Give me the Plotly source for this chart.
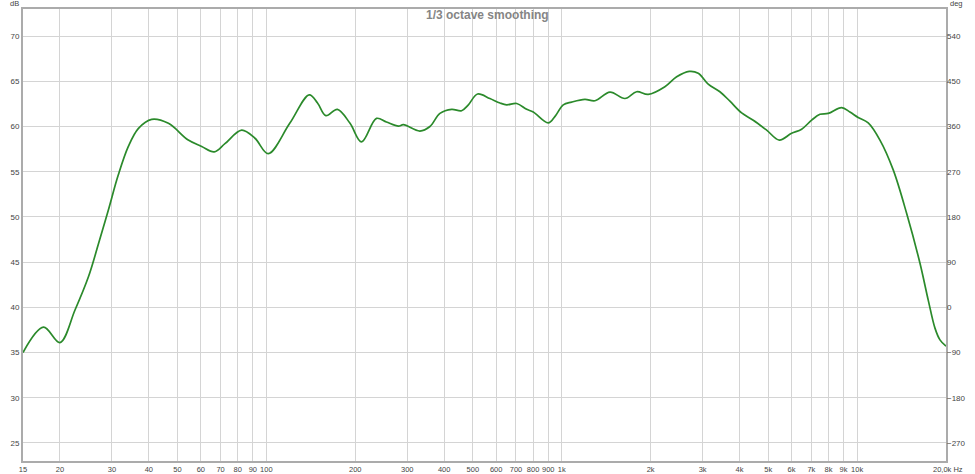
import plotly.graph_objects as go

# frequency response
freq_hz = [15, 17.6, 20, 22.5, 25, 27, 29.2, 31.5, 34.1, 36.9, 40.9, 46.6, 54.4, 60.4,
           66.6, 72.4, 82.5, 91.5, 101.5, 120, 139.7, 149, 159, 174, 192, 210, 236,
           255, 280, 291, 331, 358, 387, 424, 458, 483, 519, 571, 618, 651, 704, 761,
           801, 900, 948, 1012, 1080, 1198, 1296, 1457, 1637, 1793, 1963, 2235, 2450,
           2702, 2898, 3133, 3432, 3711, 4066, 4451, 4941, 5451, 6003, 6490, 7016,
           7487, 7985, 8862, 9455, 10086, 10906, 11950, 13254, 14712, 16320, 17413,
           18350, 19080, 20000]
spl_db = [35.0, 37.8, 36.1, 39.7, 43.4, 47.0, 50.8, 54.6, 57.8, 59.8, 60.8, 60.35, 58.5,
          57.8, 57.2, 58.1, 59.6, 58.7, 57.0, 60.35, 63.5, 62.6, 61.2, 61.9, 60.35, 58.3,
          60.9, 60.5, 60.05, 60.2, 59.5, 60.0, 61.45, 61.9, 61.75, 62.4, 63.6, 63.1,
          62.6, 62.4, 62.55, 61.9, 61.6, 60.4, 61.1, 62.4, 62.7, 63.0, 62.85, 63.8,
          63.1, 63.85, 63.55, 64.4, 65.5, 66.1, 65.9, 64.7, 63.85, 62.8, 61.5, 60.7,
          59.6, 58.5, 59.25, 59.7, 60.7, 61.35, 61.45, 62.1, 61.6, 61.0, 60.4, 58.5,
          55.2, 50.4, 44.9, 40.8, 37.7, 36.4, 35.7]

x_ticks = [15, 20, 30, 40, 50, 60, 70, 80, 90, 100, 200, 300, 400, 500, 600, 700, 800,
           900, 1000, 2000, 3000, 4000, 5000, 6000, 7000, 8000, 9000, 10000, 20000]
x_labels = ["15", "20", "30", "40", "50", "60", "70", "80", "90", "100", "200", "300",
            "400", "500", "600", "700", "800", "900", "1k", "2k", "3k", "4k", "5k", "6k",
            "7k", "8k", "9k", "10k", ""]
db_ticks = [25, 30, 35, 40, 45, 50, 55, 60, 65, 70]
deg_ticks = [-270, -180, -90, 0, 90, 180, 270, 360, 450, 540]

db_range = [23, 73]
# phase axis: 0 deg sits at 40 dB, 18 deg per dB
deg_range = [(v - 40) * 18 for v in db_range]

grid = "#d4d4d4"
frame = "#ababab"
tick_font = dict(family="Liberation Sans, Arial", size=8, color="#444444")

fig = go.Figure()

fig.add_trace(
    go.Scatter(
        x=freq_hz,
        y=spl_db,
        mode="lines",
        line=dict(color="#2b8a2b", width=1.7, shape="spline", smoothing=1.0),
        showlegend=False,
        hoverinfo="x+y",
    )
)
# empty trace so the phase axis gets drawn
fig.add_trace(go.Scatter(x=[], y=[], yaxis="y2", showlegend=False))

fig.update_layout(
    width=975,
    height=474,
    margin=dict(l=23, r=29, t=9, b=13, pad=0),
    plot_bgcolor="white",
    paper_bgcolor="white",
    xaxis=dict(
        type="log",
        range=[1.17609, 4.30103],
        tickvals=x_ticks,
        ticktext=x_labels,
        tickangle=0,
        automargin=False,
        showgrid=True,
        gridcolor=grid,
        gridwidth=1,
        zeroline=False,
        showline=True,
        linecolor=frame,
        linewidth=2,
        mirror=True,
        ticks="",
        tickfont=dict(family="Liberation Sans, Arial", size=7.5, color="#444444"),
    ),
    yaxis=dict(
        range=db_range,
        tickvals=db_ticks,
        automargin=False,
        showgrid=True,
        gridcolor=grid,
        gridwidth=1,
        zeroline=False,
        showline=True,
        linecolor=frame,
        linewidth=2,
        mirror=True,
        ticks="",
        tickfont=tick_font,
    ),
    yaxis2=dict(
        overlaying="y",
        side="right",
        range=deg_range,
        tickvals=deg_ticks,
        automargin=False,
        showgrid=False,
        zeroline=False,
        showline=False,
        ticks="",
        tickfont=tick_font,
    ),
    annotations=[
        dict(
            text="<b>1/3 octave smoothing</b>",
            xref="paper", yref="paper", x=0.503, y=0.987,
            xanchor="center", yanchor="middle", showarrow=False,
            font=dict(family="Liberation Sans, Arial", size=12, color="#858585"),
        ),
        dict(
            text="dB", xref="paper", yref="paper", x=0, y=1,
            xanchor="right", yanchor="middle", xshift=-2, yshift=6, showarrow=False,
            font=dict(family="Liberation Sans, Arial", size=7.5, color="#444444"),
        ),
        dict(
            text="deg", xref="paper", yref="paper", x=1, y=1,
            xanchor="left", yanchor="middle", xshift=2, yshift=6, showarrow=False,
            font=dict(family="Liberation Sans, Arial", size=7.5, color="#444444"),
        ),
        dict(
            text="20,0k Hz", xref="paper", yref="paper", x=1, y=0,
            xanchor="left", yanchor="top", xshift=-15, yshift=-2, showarrow=False,
            font=dict(family="Liberation Sans, Arial", size=7.5, color="#444444"),
        ),
    ],
)

# page body has a default 8px margin, drop it so the figure fills the window
fig.write_html(
    "out.html",
    config={"displayModeBar": False},
    post_script="document.body.style.margin='0';",
)
